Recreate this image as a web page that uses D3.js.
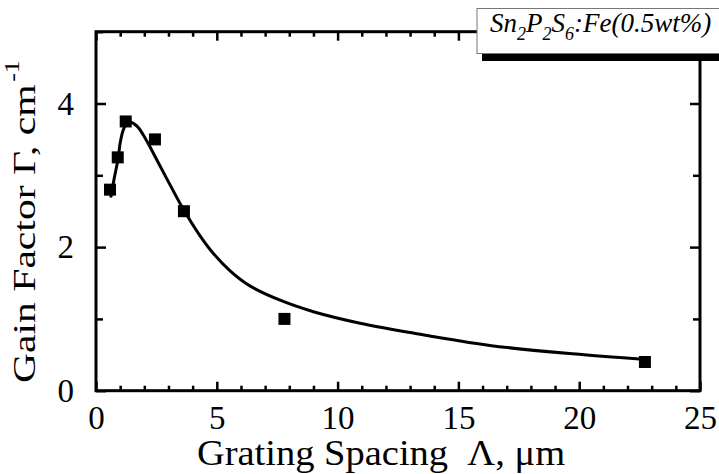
<!DOCTYPE html>
<html><head><meta charset="utf-8">
<script src="https://cdn.jsdelivr.net/npm/d3@7"></script>
<style>body{margin:0;background:#fff}svg{display:block}text{font-family:"Liberation Serif","Times New Roman",serif}</style>
</head><body><svg id="c" width="719" height="474"></svg>
<script>
const pointX = [0.58, 0.90, 1.23, 2.44, 3.64, 7.80, 22.72];
const pointY = [2.80, 3.25, 3.75, 3.50, 2.50, 1.00, 0.40];
const curveX = [0.61, 0.75, 0.92, 1.0, 1.15, 1.34, 1.68, 2.03, 2.51, 3.06, 3.61, 4.30, 4.86, 5.55, 6.37, 7.62, 9.0, 10.93, 13.0, 16.3, 20.2, 22.5];
const curveY = [2.69, 2.95, 3.24, 3.45, 3.65, 3.74, 3.69, 3.52, 3.22, 2.87, 2.53, 2.16, 1.91, 1.67, 1.46, 1.26, 1.10, 0.94, 0.81, 0.63, 0.50, 0.44];
const xMajor = [0, 5, 10, 15, 20, 25];
const yMajor = [0, 2, 4];
const xTitle = "Grating Spacing  \u039B, \u03BCm";
const yTitle = "Gain Factor \u0393, cm";

const svg = d3.select("#c");
const L = 96, R = 700, T = 31.7, B = 390.7;
const x = d3.scaleLinear().domain([0, 25]).range([L, R]);
const y = d3.scaleLinear().domain([0, 5]).range([B, T]);
const fs = 33;

const xMinor = d3.range(0, 26, 1).filter(v => v % 5 !== 0);
const yMinor = [1, 3, 5];

svg.append("rect").attr("x", L).attr("y", T).attr("width", R - L).attr("height", B - T)
  .attr("fill", "none").attr("stroke", "#000").attr("stroke-width", 3);

function ticks(s) { s.select(".domain").remove(); s.selectAll("line").attr("stroke-width", 2.5); }

const bx = svg.append("g").attr("transform", `translate(0,${B})`)
  .call(d3.axisBottom(x).tickValues(xMajor).tickSize(-9).tickFormat(d3.format("d")).tickPadding(15));
ticks(bx);
bx.selectAll("text").attr("font-size", fs).attr("font-family", "Liberation Serif").attr("fill", "#000");
svg.append("g").attr("transform", `translate(0,${B})`)
  .call(d3.axisBottom(x).tickValues(xMinor).tickSize(-5).tickFormat("")).call(ticks);
svg.append("g").attr("transform", `translate(0,${T})`)
  .call(d3.axisTop(x).tickValues(xMajor).tickSize(-9).tickFormat("")).call(ticks);
svg.append("g").attr("transform", `translate(0,${T})`)
  .call(d3.axisTop(x).tickValues(xMinor).tickSize(-5).tickFormat("")).call(ticks);

const ly = svg.append("g").attr("transform", `translate(${L},0)`)
  .call(d3.axisLeft(y).tickValues(yMajor).tickSize(-10).tickFormat(d3.format("d")).tickPadding(22));
ticks(ly);
ly.selectAll("text").attr("font-size", fs).attr("font-family", "Liberation Serif").attr("fill", "#000");
svg.append("g").attr("transform", `translate(${L},0)`)
  .call(d3.axisLeft(y).tickValues(yMinor).tickSize(-7).tickFormat("")).call(ticks);
svg.append("g").attr("transform", `translate(${R},0)`)
  .call(d3.axisRight(y).tickValues(yMajor).tickSize(-10).tickFormat("")).call(ticks);
svg.append("g").attr("transform", `translate(${R},0)`)
  .call(d3.axisRight(y).tickValues(yMinor).tickSize(-7).tickFormat("")).call(ticks);

const curve = curveX.map((v, i) => [v, curveY[i]]);
svg.append("path").datum(curve)
  .attr("d", d3.line().x(d => x(d[0])).y(d => y(d[1])).curve(d3.curveCatmullRom.alpha(0.5)))
  .attr("fill", "none").attr("stroke", "#000").attr("stroke-width", 3);

const ms = 12;
svg.append("g").selectAll("rect").data(pointX.map((v, i) => [v, pointY[i]])).join("rect")
  .attr("x", d => x(d[0]) - ms / 2).attr("y", d => y(d[1]) - ms / 2)
  .attr("width", ms).attr("height", ms).attr("fill", "#000");

svg.append("text").attr("transform", "translate(381,465) scale(1.1,1)").attr("text-anchor", "middle")
  .attr("font-size", 35).style("white-space", "pre").text(xTitle);
const yt = svg.append("text").attr("transform", "translate(35,383) rotate(-90) scale(1.3,1)")
  .attr("font-size", 32);
yt.append("tspan").text(yTitle);
yt.append("tspan").attr("font-size", 20).attr("dy", -16).attr("dx", 2).text("-1");

svg.append("rect").attr("x", 482).attr("y", 16).attr("width", 300).attr("height", 45).attr("fill", "#000");
svg.append("rect").attr("x", 477).attr("y", 8.5).attr("width", 300).attr("height", 45)
  .attr("fill", "#fff").attr("stroke", "#777").attr("stroke-width", 1);
const at = svg.append("text").attr("x", 490).attr("y", 32).attr("font-size", 27).attr("font-style", "italic");
const parts = [["Sn", 0], ["2", 1], ["P", 0], ["2", 1], ["S", 0], ["6", 1], [":Fe(0.5wt%)", 0]];
let prevSub = 0;
parts.forEach(([t, sub]) => {
  const ts = at.append("tspan").text(t);
  if (sub) ts.attr("font-size", 18).attr("dy", 8);
  else if (prevSub) ts.attr("dy", -8);
  prevSub = sub;
});
</script></body></html>
